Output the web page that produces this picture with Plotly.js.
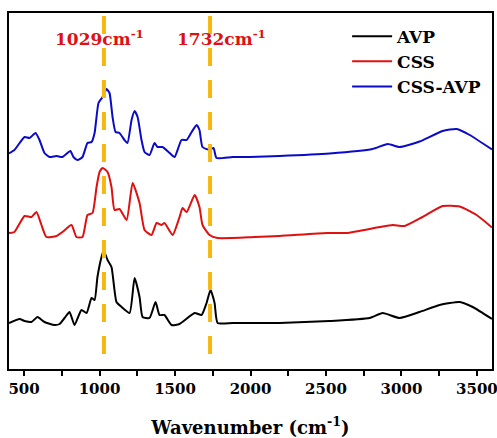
<!DOCTYPE html>
<html>
<head>
<meta charset="utf-8">
<script src="https://cdn.plot.ly/plotly-3.0.1.min.js"></script>
<style>html,body{margin:0;padding:0;background:#fff;}#chart{width:497px;height:438px;}</style>
</head>
<body>
<div id="chart"></div>
<script>
// Wavenumber (cm-1) and stacked (offset) absorbance
const avpX = [400,470,503,549,589,635,701,735,768,801,834,880,914,947,967,986,1013,1026,1040,1053,1079,1112,1146,1199,1232,1265,1285,1331,1371,1397,1430,1477,1530,1630,1676,1709,1735,1762,1782,1881,2027,2192,2524,2789,2876,2988,3120,3253,3386,3472,3600];
const avpY = [46,50,48,47,52,47,44,45,51,57,44,59,56,71,69,92,112,118,114,109,102,67,62,56,91,72,52,51,67,54,54,44,45,56,54,66,79,66,46,46,46,46,48,51,56,51,57,64,67,62,50];

const cssX = [400,436,503,549,582,615,648,715,754,814,847,887,920,953,980,1000,1020,1053,1079,1099,1132,1179,1219,1265,1298,1344,1378,1411,1430,1484,1530,1550,1577,1630,1662,1682,1729,1782,2027,2192,2504,2637,2856,2942,3021,3140,3273,3386,3498,3600];
const cssY = [136,137,153,152,157,144,132,133,137,144,132,132,154,156,182,197,201,197,182,159,160,149,186,166,139,134,146,144,146,134,152,161,157,174,162,144,134,131,132,133,136,136,142,144,143,152,163,162.5,154,141.5];

const mixX = [400,436,503,536,576,602,635,668,715,754,807,827,854,887,920,947,967,993,1020,1046,1066,1086,1106,1132,1165,1185,1212,1232,1252,1278,1298,1331,1364,1384,1417,1464,1497,1543,1577,1610,1643,1662,1682,1729,1755,1775,1881,1994,2192,2524,2809,2909,2988,3120,3273,3366,3452,3600];
const mixY = [215.7,219,232,231,236,229,216,212,213,212,218,212,209,212,226,227,236,266,272,280,276,252,237,236,229,226,249,258,252,229,217,214,226,222,222,216,212,229,229,237,244,239,222,219,221,211,212,212,213,215.5,220,225,222,227.5,238,240,234,219.5];

const seriesNames = ['AVP','CSS','CSS-AVP'];
const seriesColors = ['#000000','#e01010','#0a0ac8'];
const markWavenumbers = [1029, 1732];
const markLabels = ['<b>1029cm<sup>-1</sup></b>', '<b>1732cm<sup>-1</sup></b>'];
const xTickVals = [500,1000,1500,2000,2500,3000,3500];

const serif = 'DejaVu Serif';
const xs = [avpX, cssX, mixX];
const ys = [avpY, cssY, mixY];

const traces = seriesNames.map((n,i)=>({
  x: xs[i], y: ys[i], name: '<b>'+n+'</b>', type: 'scatter', mode: 'lines',
  line: {color: seriesColors[i], width: 2, shape:'spline', smoothing:0.5}
}));

const shapes = markWavenumbers.map(w=>({
  type:'line', xref:'x', yref:'paper', x0:w, x1:w, y0:0.042, y1:1,
  line:{color:'#f5b810', width:4, dash:'18px,14px'}, layer:'above'
}));

const annotations = markWavenumbers.map((w,i)=>({
  xref:'x', yref:'paper', x: [690,1500][i], y: 0.93, xanchor:'left', yanchor:'middle',
  text: markLabels[i], showarrow:false,
  font:{family:serif, size:17, color:'#e01010'}
}));

const layout = {
  width:497, height:438,
  margin:{l:9, r:5, t:13, b:69},
  paper_bgcolor:'#fff', plot_bgcolor:'#fff',
  font:{family:serif},
  showlegend:true,
  legend:{x:0.70, y:0.984, xanchor:'left', yanchor:'top', bgcolor:'rgba(0,0,0,0)', itemwidth:40,
    font:{family:serif, size:17, color:'#000'}, tracegroupgap:0},
  xaxis:{range:[400,3600], tickvals:xTickVals, ticktext:xTickVals.map(v=>'<b>'+v+'</b>'), ticks:'outside', ticklen:5, tickwidth:2, tickcolor:'#000',
    ticklabeloverflow:'allow',
    minor:{dtick:250, tick0:0, ticks:'outside', ticklen:5, tickwidth:2, tickcolor:'#000'},
    showline:true, linecolor:'#000', linewidth:2, mirror:true, showgrid:false, zeroline:false,
    tickfont:{family:serif, size:15, color:'#000'},
    title:{text:'<b>Wavenumber (cm<sup>-1</sup>)</b>', font:{family:serif, size:18, color:'#000'}, standoff:24}},
  yaxis:{range:[0,356], showticklabels:false, ticks:'', showline:true, linecolor:'#000', linewidth:2, mirror:true,
    showgrid:false, zeroline:false},
  shapes: shapes, annotations: annotations
};
Plotly.newPlot('chart', traces, layout, {displayModeBar:false, staticPlot:true});
</script>
</body>
</html>
